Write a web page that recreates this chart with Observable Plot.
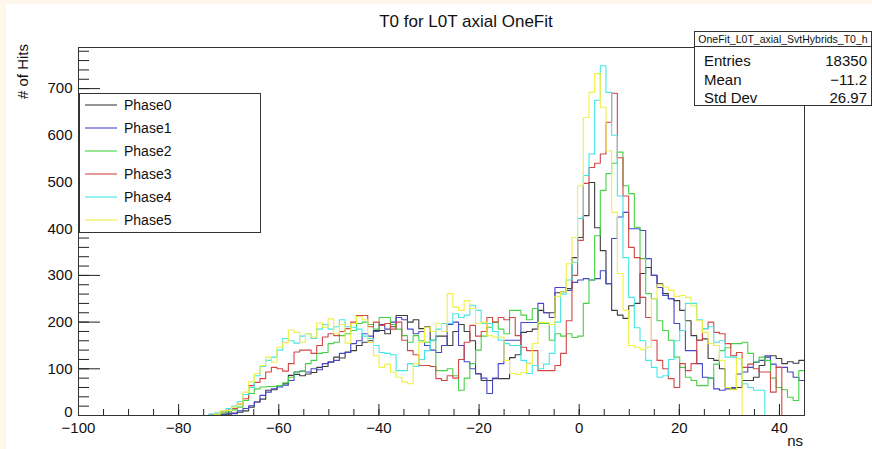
<!DOCTYPE html>
<html>
<head>
<meta charset="utf-8">
<script src="https://cdn.jsdelivr.net/npm/d3@7"></script>
<script src="https://cdn.jsdelivr.net/npm/@observablehq/plot@0.6"></script>
<style>
  body { margin: 0; background: #ffffff; }
  #chart { position: relative; width: 872px; height: 449px; }
  #chart .edge { position: absolute; background: #fff8ea; }
</style>
</head>
<body>
<div id="chart"></div>
<script>
// Histogram binning: 128 bins over [-100, 45] ns; bins below firstBin are empty.
const binLow = -100;
const binHigh = 45;
const nBins = 128;
const firstBin = 20;

const phaseNames = ["Phase0", "Phase1", "Phase2", "Phase3", "Phase4", "Phase5"];
const phaseColors = ["#3c3c3c", "#4646c8", "#46d246", "#d24646", "#46e6e6", "#f0f046"];

// Counts per bin, starting at bin index firstBin.
const phase0 = [
  0, 0, 0, 0, 0, 2, 3, 5, 7, 10,
  18, 29, 35, 54, 55, 64, 68, 86, 88, 85,
  89, 92, 103, 105, 114, 125, 123, 136, 139, 150,
  157, 160, 182, 182, 175, 190, 214, 214, 200, 205,
  186, 190, 161, 170, 170, 150, 180, 195, 180, 160,
  89, 75, 75, 79, 79, 79, 124, 130, 178, 180,
  185, 225, 220, 220, 263, 265, 272, 338, 381, 428,
  499, 402, 353, 282, 225, 215, 208, 235, 240, 304,
  317, 300, 282, 261, 250, 246, 225, 203, 171, 161,
  164, 122, 118, 100, 60, 57, 60, 75, 75, 82,
  107, 125, 128, 122, 111, 115, 112, 118
];
const phase1 = [
  0, 0, 0, 0, 2, 3, 5, 4, 10, 15,
  21, 29, 43, 50, 57, 61, 65, 75, 93, 95,
  93, 100, 98, 111, 115, 118, 133, 135, 154, 160,
  175, 170, 180, 195, 185, 200, 210, 205, 185, 175,
  180, 150, 140, 135, 150, 195, 200, 150, 115, 100,
  90, 80, 47, 80, 111, 161, 161, 161, 199, 199,
  199, 240, 220, 210, 274, 274, 268, 285, 290, 293,
  290, 293, 310, 282, 379, 425, 435, 400, 400, 396,
  336, 300, 274, 257, 250, 197, 182, 139, 139, 111,
  82, 80, 57, 54, 57, 60, 89, 93, 103, 114,
  118, 128, 110, 103, 103, 93, 82, 75
];
const phase2 = [
  0, 0, 0, 0, 2, 5, 8, 12, 18, 32,
  47, 57, 61, 62, 62, 64, 70, 82, 93, 95,
  111, 118, 133, 135, 154, 157, 171, 175, 182, 197,
  200, 195, 185, 210, 210, 195, 185, 171, 157, 171,
  160, 157, 160, 96, 96, 100, 85, 54, 80, 111,
  140, 170, 189, 200, 185, 175, 225, 225, 215, 205,
  229, 197, 197, 161, 175, 170, 175, 167, 170, 240,
  290, 385, 482, 518, 540, 564, 492, 475, 403, 336,
  261, 250, 203, 182, 161, 125, 103, 82, 75, 64,
  64, 80, 110, 139, 145, 154, 154, 157, 133, 115,
  125, 118, 80, 60, 55, 39, 32, 96
];
const phase3 = [
  0, 0, 0, 2, 4, 8, 11, 15, 25, 36,
  64, 71, 79, 93, 103, 100, 95, 111, 136, 140,
  140, 133, 150, 168, 175, 171, 180, 186, 200, 214,
  214, 190, 200, 193, 197, 185, 200, 161, 139, 130,
  107, 107, 105, 79, 75, 85, 80, 120, 157, 193,
  170, 180, 210, 200, 210, 205, 210, 171, 146, 139,
  139, 96, 96, 96, 107, 133, 203, 300, 375, 497,
  531, 540, 560, 628, 690, 552, 470, 360, 338, 253,
  210, 161, 118, 100, 79, 60, 111, 96, 111, 161,
  186, 200, 178, 175, 154, 128, 135, 103, 110, 100,
  93, 93, 50, 103, 0, 0, 0, 0
];
const phase4 = [
  0, 0, 0, 3, 5, 10, 15, 20, 30, 45,
  60, 85, 105, 118, 125, 140, 165, 160, 155, 170,
  175, 165, 185, 195, 185, 190, 205, 190, 189, 185,
  170, 165, 150, 135, 133, 130, 96, 96, 111, 105,
  120, 139, 161, 185, 197, 197, 218, 210, 215, 236,
  225, 197, 197, 180, 161, 154, 150, 150, 118, 90,
  107, 100, 110, 133, 200, 260, 290, 328, 422, 514,
  560, 675, 749, 692, 600, 470, 338, 253, 188, 160,
  118, 103, 82, 85, 120, 160, 182, 240, 240, 205,
  186, 190, 157, 160, 125, 125, 122, 68, 60, 54,
  54, 0, 0, 0, 0, 0, 0, 0
];
const phase5 = [
  0, 0, 0, 0, 3, 10, 11, 18, 25, 50,
  72, 90, 107, 125, 114, 146, 157, 183, 178, 157,
  175, 168, 198, 189, 207, 175, 195, 155, 197, 212,
  205, 157, 128, 103, 110, 93, 82, 72, 68, 111,
  157, 189, 180, 197, 180, 261, 232, 225, 246, 229,
  197, 200, 171, 168, 168, 118, 90, 88, 92, 111,
  154, 199, 199, 195, 255, 265, 325, 381, 492, 638,
  692, 732, 660, 567, 435, 304, 225, 150, 146, 141,
  146, 250, 280, 275, 268, 255, 257, 253, 235, 203,
  178, 154, 150, 118, 60, 55, 122, 0, 0, 0,
  0, 0, 0, 0, 0, 0, 0, 0
];

const xMajorTicks = [-100, -80, -60, -40, -20, 0, 20, 40];
const yMajorTicks = [0, 100, 200, 300, 400, 500, 600, 700];

const statsName = "OneFit_L0T_axial_SvtHybrids_T0_h";
const statsRows = [["Entries", "18350"], ["Mean", "\u221211.2"], ["Std Dev", "26.97"]];

// Step outline per phase: one point per bin low edge, plus the closing edge.
const allCounts = [phase0, phase1, phase2, phase3, phase4, phase5];
const binWidth = (binHigh - binLow) / nBins;
const steps = [];
allCounts.forEach((counts, s) => {
  let last = 0;
  for (let k = 0; k < nBins; k++) {
    last = k < firstBin ? 0 : counts[k - firstBin];
    steps.push({phase: phaseNames[s], t: binLow + k * binWidth, n: last});
  }
  steps.push({phase: phaseNames[s], t: binHigh, n: last});
});

const yMax = 788;
const chart = Plot.plot({
  width: 872,
  height: 449,
  marginLeft: 78,
  marginRight: 68,
  marginTop: 47,
  marginBottom: 34,
  style: {fontFamily: "Liberation Sans, Arial, sans-serif", background: "#ffffff"},
  x: {domain: [binLow, binHigh]},
  y: {domain: [0, yMax]},
  color: {domain: phaseNames, range: phaseColors},
  marks: [
    // inward ticks, ROOT style
    Plot.axisX({ticks: d3.range(-100, 46, 5), tickSize: -6, tickFormat: () => "", label: null, stroke: "#222"}),
    Plot.axisX({ticks: xMajorTicks, tickSize: -11, tickPadding: 18, fontSize: 15, label: null, stroke: "#222", fill: "#111"}),
    Plot.axisY({ticks: d3.range(0, yMax, 20), tickSize: -11, tickFormat: () => "", label: null, stroke: "#222"}),
    Plot.axisY({ticks: yMajorTicks, tickSize: -22, tickFormat: () => "", label: null, stroke: "#222"}),
    // y tick labels
    Plot.text(yMajorTicks, {y: d => d, text: d => String(d), frameAnchor: "left", textAnchor: "end",
      dx: -6, fontSize: 15, fill: "#111"}),
    Plot.line(steps, {x: "t", y: "n", z: "phase", stroke: "phase", curve: "step-after", strokeWidth: 1.1}),
    Plot.frame({stroke: "#333", strokeWidth: 1})
  ]
});
const host = document.getElementById("chart");
host.appendChild(chart);

// lift the zero label of the y axis above the x tick labels
d3.select(chart).selectAll("g[aria-label='text'] text")
  .filter(function() { return this.textContent === "0"; })
  .attr("dy", "-0.2em");

// thin cream margin along the top and left edges
const topEdge = document.createElement("div");
topEdge.className = "edge";
Object.assign(topEdge.style, {left: "0px", top: "0px", width: "872px", height: "4px"});
const leftEdge = document.createElement("div");
leftEdge.className = "edge";
Object.assign(leftEdge.style, {left: "0px", top: "0px", width: "6px", height: "449px"});
host.appendChild(topEdge);
host.appendChild(leftEdge);

const svg = d3.select(chart);
const font = "Liberation Sans, Arial, sans-serif";

function label(parent, x, y, size, anchor, str) {
  return parent.append("text").attr("x", x).attr("y", y)
    .style("font-family", font).style("font-size", size + "px")
    .style("text-anchor", anchor).style("fill", "#111").text(str);
}

// Title
label(svg, 466, 27, 17, "middle", "T0 for L0T axial OneFit");

// Axis titles
svg.append("text").attr("transform", "translate(28,44) rotate(-90)")
  .style("font-family", font).style("font-size", "15px").style("text-anchor", "end")
  .style("fill", "#111").text("# of Hits");
label(svg, 803, 446, 15, "end", "ns");

// Legend box
const lg = svg.append("g");
lg.append("rect").attr("x", 79.5).attr("y", 93.5).attr("width", 181).attr("height", 139)
  .attr("fill", "#fff").attr("stroke", "#333");
phaseNames.forEach((name, i) => {
  const yy = 105 + i * 23;
  lg.append("line").attr("x1", 85).attr("x2", 117).attr("y1", yy).attr("y2", yy)
    .attr("stroke", phaseColors[i]).attr("stroke-width", 1.1);
  label(lg, 124, yy + 5, 14, "start", name);
});

// Statistics box
const st = svg.append("g");
st.append("rect").attr("x", 694.5).attr("y", 31.5).attr("width", 177).attr("height", 74)
  .attr("fill", "#fff").attr("stroke", "#333");
st.append("line").attr("x1", 694.5).attr("x2", 872).attr("y1", 46.5).attr("y2", 46.5).attr("stroke", "#333");
label(st, 783, 43, 10.5, "middle", statsName);
statsRows.forEach(([k, v], i) => {
  const yy = 66 + i * 18.5;
  label(st, 704, yy, 15, "start", k);
  label(st, 867, yy, 15, "end", v);
});
</script>
</body>
</html>
